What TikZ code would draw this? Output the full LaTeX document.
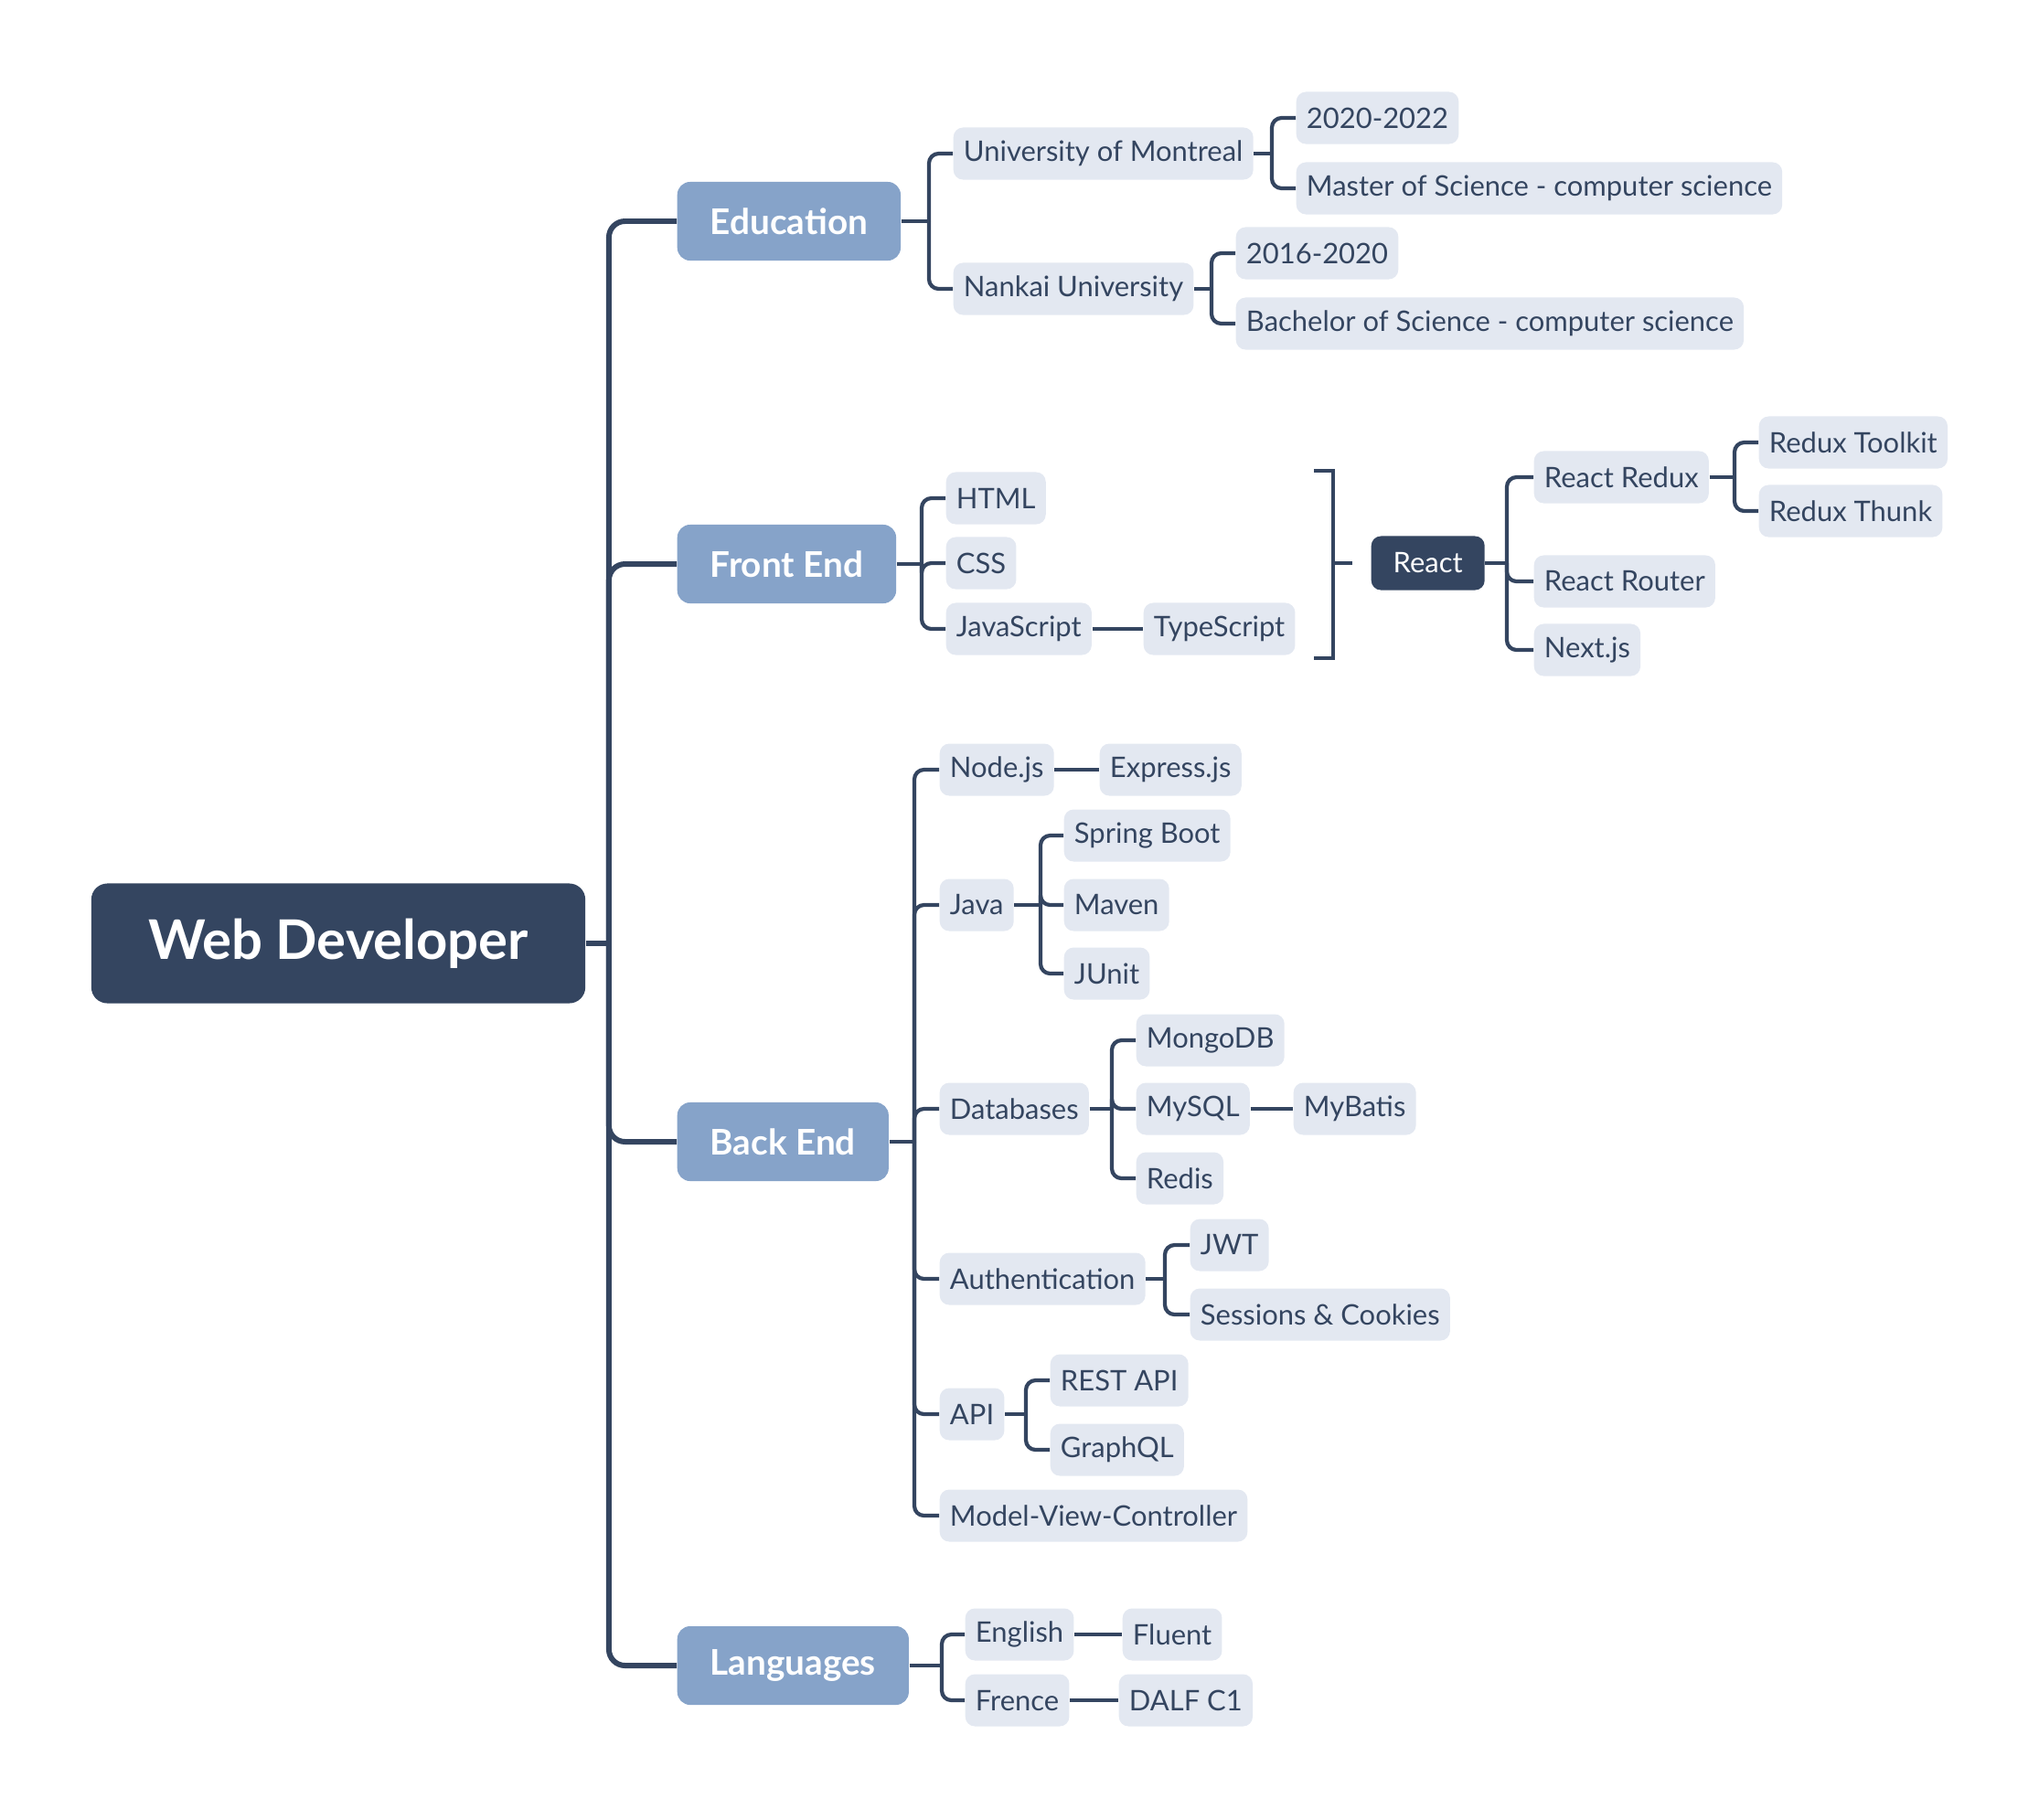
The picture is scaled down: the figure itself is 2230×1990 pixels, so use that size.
\documentclass[tikz,border=0pt]{standalone}
\usepackage{fontspec}
\setmainfont{Lato}
\definecolor{ink}{HTML}{344560}
\definecolor{topicfill}{HTML}{86A3C9}
\definecolor{leaffill}{HTML}{E3E8F1}
\begin{document}
\begin{tikzpicture}[x=0.01cm, y=-0.01cm,
    link/.style={draw=ink, line width=1.2pt, rounded corners=3pt},
    trunk/.style={draw=ink, line width=1.7pt, rounded corners=5pt},
    leaf/.style={fill=leaffill, text=ink, rounded corners=3pt, anchor=west,
        font=\fontsize{8.8}{10}\selectfont, inner xsep=3.2pt, minimum height=0.57cm},
    topic/.style={fill=topicfill, text=white, rounded corners=4pt, anchor=west,
        font=\bfseries\fontsize{11}{13}\selectfont, inner xsep=0.36cm, minimum height=0.86cm},
    central/.style={fill=ink, text=white, rounded corners=5pt,
        font=\bfseries\fontsize{17}{20}\selectfont, minimum width=5.4cm, minimum height=1.31cm},
    summary/.style={fill=ink, text=white, rounded corners=3pt, anchor=west,
        font=\fontsize{8.8}{10}\selectfont, inner xsep=0.24cm, minimum height=0.59cm}]
    \useasboundingbox (0,0) rectangle (2230,1990);

    \node[central] (root) at (370,1032) {Web Developer};

    \node[topic] (edu) at (740,242) {Education};
    \node[topic] (front) at (740,617) {Front End};
    \node[topic] (back) at (740,1249) {Back End};
    \node[topic] (lang) at (740,1822) {Languages};

    \node[leaf] (mtl) at (1042,168) {University of Montreal};
    \node[leaf] (mtlY) at (1417,129) {2020-2022};
    \node[leaf] (mtlD) at (1417,206) {Master of Science - computer science};
    \node[leaf] (nk) at (1042,316) {Nankai University};
    \node[leaf] (nkY) at (1351,277) {2016-2020};
    \node[leaf] (nkD) at (1351,354) {Bachelor of Science - computer science};

    \node[leaf] (html) at (1034,545) {HTML};
    \node[leaf] (css) at (1034,616) {CSS};
    \node[leaf] (js) at (1034,688) {JavaScript};
    \node[leaf] (ts) at (1250,688) {TypeScript};
    \node[summary] (react) at (1499,616) {React};
    \node[leaf] (redux) at (1677,522) {React Redux};
    \node[leaf] (rtk) at (1923,484) {Redux Toolkit};
    \node[leaf] (thunk) at (1923,559) {Redux Thunk};
    \node[leaf] (router) at (1677,636) {React Router};
    \node[leaf] (next) at (1677,711) {Next.js};

    \node[leaf] (nodejs) at (1027,842) {Node.js};
    \node[leaf] (express) at (1202,842) {Express.js};
    \node[leaf] (java) at (1027,990) {Java};
    \node[leaf] (spring) at (1163,914) {Spring Boot};
    \node[leaf] (maven) at (1163,990) {Maven};
    \node[leaf] (junit) at (1163,1065) {JUnit};
    \node[leaf] (db) at (1027,1213) {Databases};
    \node[leaf] (mongo) at (1242,1138) {MongoDB};
    \node[leaf] (mysql) at (1242,1213) {MySQL};
    \node[leaf] (mybatis) at (1414,1213) {MyBatis};
    \node[leaf] (redis) at (1242,1289) {Redis};
    \node[leaf] (auth) at (1027,1399) {Authentication};
    \node[leaf] (jwt) at (1301,1362) {JWT};
    \node[leaf] (sess) at (1301,1438) {Sessions \& Cookies};
    \node[leaf] (api) at (1027,1547) {API};
    \node[leaf] (rest) at (1148,1510) {REST API};
    \node[leaf] (gql) at (1148,1586) {GraphQL};
    \node[leaf] (mvc) at (1027,1658) {Model-View-Controller};

    \node[leaf] (eng) at (1055,1788) {English};
    \node[leaf] (fluent) at (1227,1788) {Fluent};
    \node[leaf] (fr) at (1055,1860) {Frence};
    \node[leaf] (dalf) at (1223,1860) {DALF C1};

    % trunk
    \draw[trunk] (root.east) -- ([xshift=-0.74cm]root.east -| edu.west) coordinate (rootB);
    \foreach \t in {edu, front, back, lang}
        \draw[trunk] (rootB) |- (\t.west);

    % education
    \draw[link] (edu.east) -- ([xshift=-0.26cm]edu.east -| mtl.west) coordinate (eduB);
    \foreach \c in {mtl, nk}
        \draw[link] (eduB) |- (\c.west);
    \draw[link] (mtl.east) -- ([xshift=-0.26cm]mtl.east -| mtlY.west) coordinate (mtlB);
    \foreach \c in {mtlY, mtlD}
        \draw[link] (mtlB) |- (\c.west);
    \draw[link] (nk.east) -- ([xshift=-0.26cm]nk.east -| nkY.west) coordinate (nkB);
    \foreach \c in {nkY, nkD}
        \draw[link] (nkB) |- (\c.west);

    % front end
    \draw[link] (front.east) -- ([xshift=-0.26cm]front.east -| html.west) coordinate (frontB);
    \foreach \c in {html, css, js}
        \draw[link] (frontB) |- (\c.west);
    \draw[link] (js) -- (ts);
    \coordinate (sumT) at (1437,515);
    \coordinate (sumB) at (1437,720);
    \draw[link, rounded corners=0pt] (sumT) -- ++(21,0) |- (sumB);
    \draw[link] ([xshift=0.21cm]sumT |- react.west) -- ([xshift=-0.2cm]react.west);
    \draw[link] (react.east) -- ([xshift=-0.29cm]react.east -| redux.west) coordinate (reactB);
    \foreach \c in {redux, router, next}
        \draw[link] (reactB) |- (\c.west);
    \draw[link] (redux.east) -- ([xshift=-0.26cm]redux.east -| rtk.west) coordinate (reduxB);
    \foreach \c in {rtk, thunk}
        \draw[link] (reduxB) |- (\c.west);

    % back end
    \draw[link] (back.east) -- ([xshift=-0.27cm]back.east -| nodejs.west) coordinate (backB);
    \foreach \c in {nodejs, java, db, auth, api, mvc}
        \draw[link] (backB) |- (\c.west);
    \draw[link] (nodejs) -- (express);
    \draw[link] (java.east) -- ([xshift=-0.25cm]java.east -| spring.west) coordinate (javaB);
    \foreach \c in {spring, maven, junit}
        \draw[link] (javaB) |- (\c.west);
    \draw[link] (db.east) -- ([xshift=-0.26cm]db.east -| mongo.west) coordinate (dbB);
    \foreach \c in {mongo, mysql, redis}
        \draw[link] (dbB) |- (\c.west);
    \draw[link] (mysql) -- (mybatis);
    \draw[link] (auth.east) -- ([xshift=-0.27cm]auth.east -| jwt.west) coordinate (authB);
    \foreach \c in {jwt, sess}
        \draw[link] (authB) |- (\c.west);
    \draw[link] (api.east) -- ([xshift=-0.26cm]api.east -| rest.west) coordinate (apiB);
    \foreach \c in {rest, gql}
        \draw[link] (apiB) |- (\c.west);

    % languages
    \draw[link] (lang.east) -- ([xshift=-0.25cm]lang.east -| eng.west) coordinate (langB);
    \foreach \c in {eng, fr}
        \draw[link] (langB) |- (\c.west);
    \draw[link] (eng) -- (fluent);
    \draw[link] (fr) -- (dalf);
\end{tikzpicture}
\end{document}
